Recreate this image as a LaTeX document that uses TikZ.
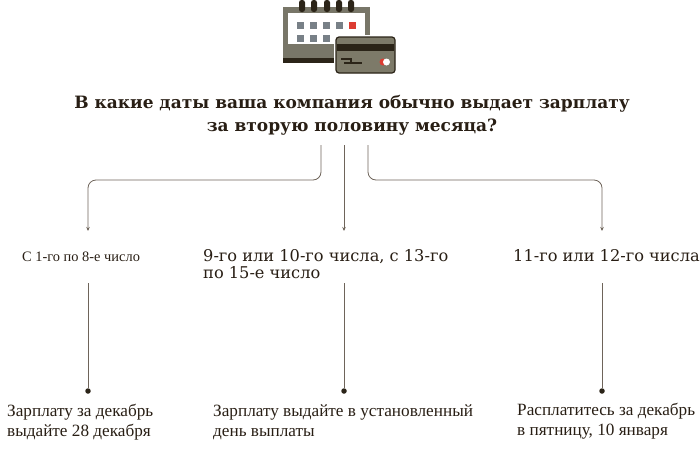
\documentclass[tikz,border=0pt]{standalone}
\usepackage{fontspec}
\setmainfont{DejaVu Serif}
\newfontfamily\narrowfont{Liberation Serif}
\usetikzlibrary{arrows.meta,positioning}
\definecolor{ink}{RGB}{40,30,20}
\definecolor{wire}{RGB}{110,100,90}
\definecolor{calgray}{RGB}{120,118,104}
\definecolor{caldark}{RGB}{43,36,24}
\definecolor{sqgray}{RGB}{120,128,135}
\definecolor{calred}{RGB}{220,60,50}
\definecolor{cardgray}{RGB}{125,122,105}

\begin{document}
\begin{tikzpicture}[x=1pt,y=-1pt,
  question/.style={align=center,text=ink,inner sep=0pt,font=\bfseries\fontsize{17}{23}\selectfont},
  answer/.style={anchor=base west,align=left,text=ink,inner sep=0pt,font=\fontsize{16.2}{17}\selectfont},
  advice/.style={anchor=base west,align=left,text=ink,inner sep=0pt,font=\narrowfont\fontsize{17.2}{20}\selectfont},
  branch/.style={draw=wire,line width=0.8pt,rounded corners=8pt,-{Stealth[length=4pt,width=3.5pt]}},
  stem/.style={draw=wire,line width=0.8pt},
  dot/.style={circle,fill=caldark,inner sep=0pt,minimum size=5.5pt}]
\useasboundingbox (0,0) rectangle (700,461);

% calendar
\fill[calgray] (283,7) rectangle (370,63);
\fill[white] (288,13) rectangle (365,44);
\fill[caldark] (283,58) rectangle (370,63);
\foreach \x in {302,314,327,339,351}
  \fill[caldark,rounded corners=2.5pt] ({\x-3},0) rectangle ({\x+3},12);
\foreach \x in {297,310,323,336}
  \fill[sqgray] (\x,22) rectangle +(7,7);
\fill[calred] (349,22) rectangle +(7,7);
\foreach \x in {297,310,323}
  \fill[sqgray] (\x,35) rectangle +(7,7);

% card
\draw[white,line width=4pt,rounded corners=3pt] (336,37) rectangle (395,73);
\filldraw[fill=cardgray,draw=caldark,line width=1.2pt,rounded corners=3pt] (336,37) rectangle (395,73);
\fill[caldark] (337,44) rectangle (394,51);
\draw[caldark,line width=1.2pt] (341,59) -- (351,59) -- (351,63) (344,63) -- (362,63);
\fill[calred] (383,62) circle (3.5);
\fill[white] (386.5,62) circle (3.5);

\node[question] (q) at (352,115)
  {В какие даты ваша компания обычно выдает зарплату\\за вторую половину месяца?};

\coordinate (b1) at (321,145);
\coordinate (b2) at (344,145);
\coordinate (b3) at (368,145);
\coordinate (t1) at (88,231);
\coordinate (t2) at (344,231);
\coordinate (t3) at (602,231);

\draw[branch] (b1) -- ++(0,35) -| (t1);
\draw[branch] (b2) -- (t2);
\draw[branch] (b3) -- ++(0,35) -| (t3);

% base of a node with two lines is its last line
\node[answer,font=\narrowfont\fontsize{14.4}{17}\selectfont] (a1) at (22,261) {С 1-го по 8-е число};
\node[answer] (a2) at (203,278) {9-го или 10-го числа, с 13-го\\по 15-е число};
\node[answer] (a3) at (513,261) {11-го или 12-го числа};

\coordinate (s1) at (88,283);
\coordinate (s2) at (344,283);
\coordinate (s3) at (602,283);
\node[dot] (d1) at (88,391) {};
\node[dot] (d2) at (344,391) {};
\node[dot] (d3) at (602,391) {};

\draw[stem] (s1) -- (d1);
\draw[stem] (s2) -- (d2);
\draw[stem] (s3) -- (d3);

\node[advice] (r1) at (7,436) {Зарплату за декабрь\\выдайте 28 декабря};
\node[advice] (r2) at (213,436) {Зарплату выдайте в установленный\\день выплаты};
\node[advice] (r3) at (517,435) {Расплатитесь за декабрь\\в пятницу, 10 января};
\end{tikzpicture}
\end{document}
